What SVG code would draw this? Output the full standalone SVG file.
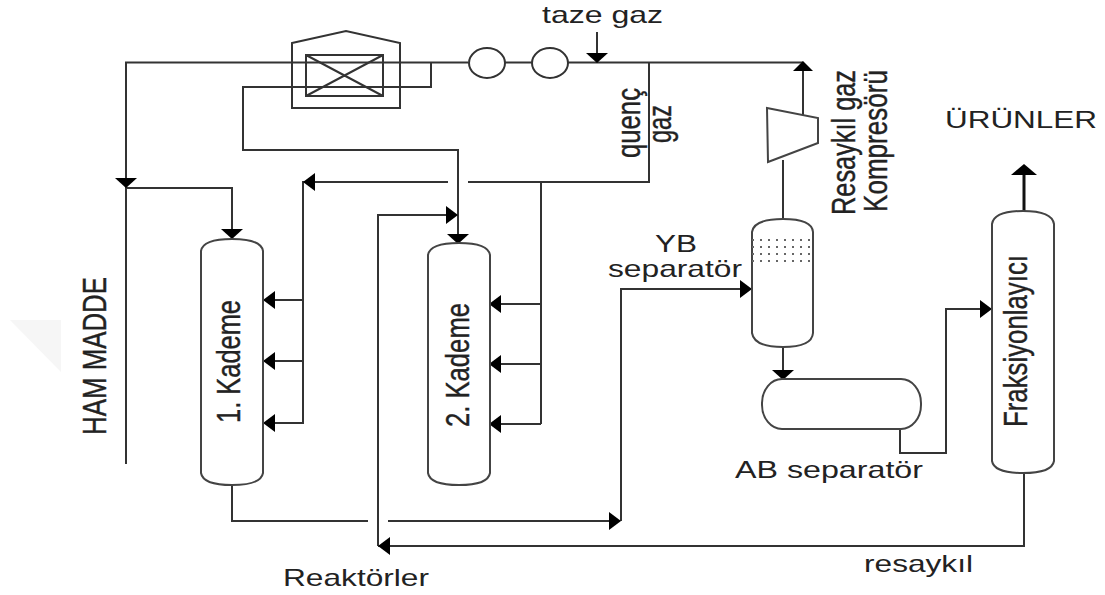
<svg xmlns="http://www.w3.org/2000/svg" width="1105" height="595" viewBox="0 0 1105 595">
<style>
.l{fill:none;stroke:#333;stroke-width:2}
.s{fill:#fff;stroke:#444;stroke-width:2}
.h{fill:#000;stroke:none}
.t{font-family:"Liberation Sans",Arial,sans-serif;fill:#222;font-size:24px}
.r{font-size:34px;stroke:#222;stroke-width:.4}
</style>
<defs>
<path id="L" class="h" d="M0 0L12 -9V9Z"/>
<path id="R" class="h" d="M0 0L-12 -9V9Z"/>
<path id="D" class="h" d="M0 0L-11 -10H11Z"/>
</defs>
<rect width="1105" height="595" fill="#fff"/>
<path d="M10 320H61V372Z" fill="#f6f6f6"/>
<g id="connectors">
<path class="l" d="M468 62.500H126V464"/>
<path class="l" d="M126 188H232V232"/>
<path class="l" d="M431 63V87H243V150H458V236"/>
<path class="l" d="M505 62.500H532M568 62.500H803M597 32V55"/>
<path class="l" d="M649 63V182H468M448 182H303V424"/>
<path class="l" d="M303 300H270M303 361H270M303 423H270"/>
<path class="l" d="M541 182V424M541 304H496M541 364H496M541 424H496"/>
<path class="l" d="M450 215H378V546M378 546H1024V473"/>
<path class="l" d="M232 485V521H368M388 521H612M621 521V289H742"/>
<path class="l" d="M803 64V115M783 160V219M783 347V372"/>
<path class="l" d="M900 429V453H946V309H984"/>
<path d="M1024 211V170" fill="none" stroke="#111" stroke-width="3"/>
<use href="#D" x="126" y="188"/><use href="#D" x="232" y="239"/><use href="#D" x="458" y="244"/>
<use href="#D" x="597" y="63"/><use href="#D" x="783" y="380"/>
<path class="h" d="M803 61L813 71H793Z"/><path class="h" d="M1024 164L1037 175H1011Z"/>
<use href="#L" x="303" y="182"/><use href="#L" x="263" y="300"/><use href="#L" x="263" y="361"/><use href="#L" x="263" y="423"/>
<use href="#L" x="489" y="304"/><use href="#L" x="489" y="364"/><use href="#L" x="489" y="424"/><use href="#L" x="378" y="546"/>
<use href="#R" x="458" y="215"/><use href="#R" x="621" y="521"/><use href="#R" x="752" y="289"/><use href="#R" x="992" y="309"/>
</g>
<g id="furnace">
<path class="l" d="M292 43L346 31L400 43V108H292Z"/>
<path class="l" d="M306 55H383V96H306ZM306 55L383 96M383 55L306 96"/>
</g>
<g id="pump1"><ellipse class="l" cx="487" cy="63" rx="18" ry="15"/></g>
<g id="pump2"><ellipse class="l" cx="550" cy="63" rx="18" ry="15"/></g>
<g id="compressor"><path class="s" d="M767 108L818 118V143L768 162Z"/></g>
<g id="reactor1">
<path class="s" d="M201 251Q203 239 232 239Q261 239 263 251V473Q261 485 232 485Q203 485 201 473Z"/>
<text class="t r" transform="translate(240 423) rotate(-90)" textLength="123" lengthAdjust="spacingAndGlyphs">1. Kademe</text>
</g>
<g id="reactor2">
<path class="s" d="M428 255Q430 243 459 243Q488 243 490 255V473Q488 485 459 485Q430 485 428 473Z"/>
<text class="t r" transform="translate(469 427) rotate(-90)" textLength="124" lengthAdjust="spacingAndGlyphs">2. Kademe</text>
</g>
<g id="yb-separator">
<path class="s" d="M752 232Q754 219 783 219Q812 219 813 232V333Q812 347 783 347Q754 347 752 333Z"/>
<path d="M752 240H813M752 247H813M752 254H813M752 261H813" fill="none" stroke="#666" stroke-width="2" stroke-dasharray="2 6"/>
</g>
<g id="ab-separator"><rect class="s" x="762" y="379" width="159" height="50" rx="20" ry="24"/></g>
<g id="fractionator">
<path class="s" d="M992 224Q994 211 1023 211Q1052 211 1054 224V461Q1052 473 1023 473Q994 473 992 461Z"/>
<text class="t r" transform="translate(1027 427) rotate(-90)" textLength="172" lengthAdjust="spacingAndGlyphs">Fraksiyonlayıcı</text>
</g>
<g id="labels">
<text class="t" x="542" y="23" textLength="121" lengthAdjust="spacingAndGlyphs">taze gaz</text>
<text class="t" x="945" y="128" textLength="152" lengthAdjust="spacingAndGlyphs">ÜRÜNLER</text>
<text class="t" x="655" y="252" textLength="42" lengthAdjust="spacingAndGlyphs">YB</text>
<text class="t" x="608" y="277" textLength="134" lengthAdjust="spacingAndGlyphs">separatör</text>
<text class="t" x="735" y="478" textLength="188" lengthAdjust="spacingAndGlyphs">AB separatör</text>
<text class="t" x="864" y="572" textLength="109" lengthAdjust="spacingAndGlyphs">resaykıl</text>
<text class="t" x="283" y="586" textLength="146" lengthAdjust="spacingAndGlyphs">Reaktörler</text>
<text class="t r" transform="translate(106 435) rotate(-90)" textLength="158" lengthAdjust="spacingAndGlyphs">HAM MADDE</text>
<text class="t r" transform="translate(640 158) rotate(-90)" textLength="70" lengthAdjust="spacingAndGlyphs">quenç</text>
<text class="t r" transform="translate(671 143) rotate(-90)" textLength="38" lengthAdjust="spacingAndGlyphs">gaz</text>
<text class="t r" transform="translate(855 215) rotate(-90)" textLength="145" lengthAdjust="spacingAndGlyphs">Resaykıl gaz</text>
<text class="t r" transform="translate(887 212) rotate(-90)" textLength="142" lengthAdjust="spacingAndGlyphs">Kompresörü</text>
</g>
</svg>
